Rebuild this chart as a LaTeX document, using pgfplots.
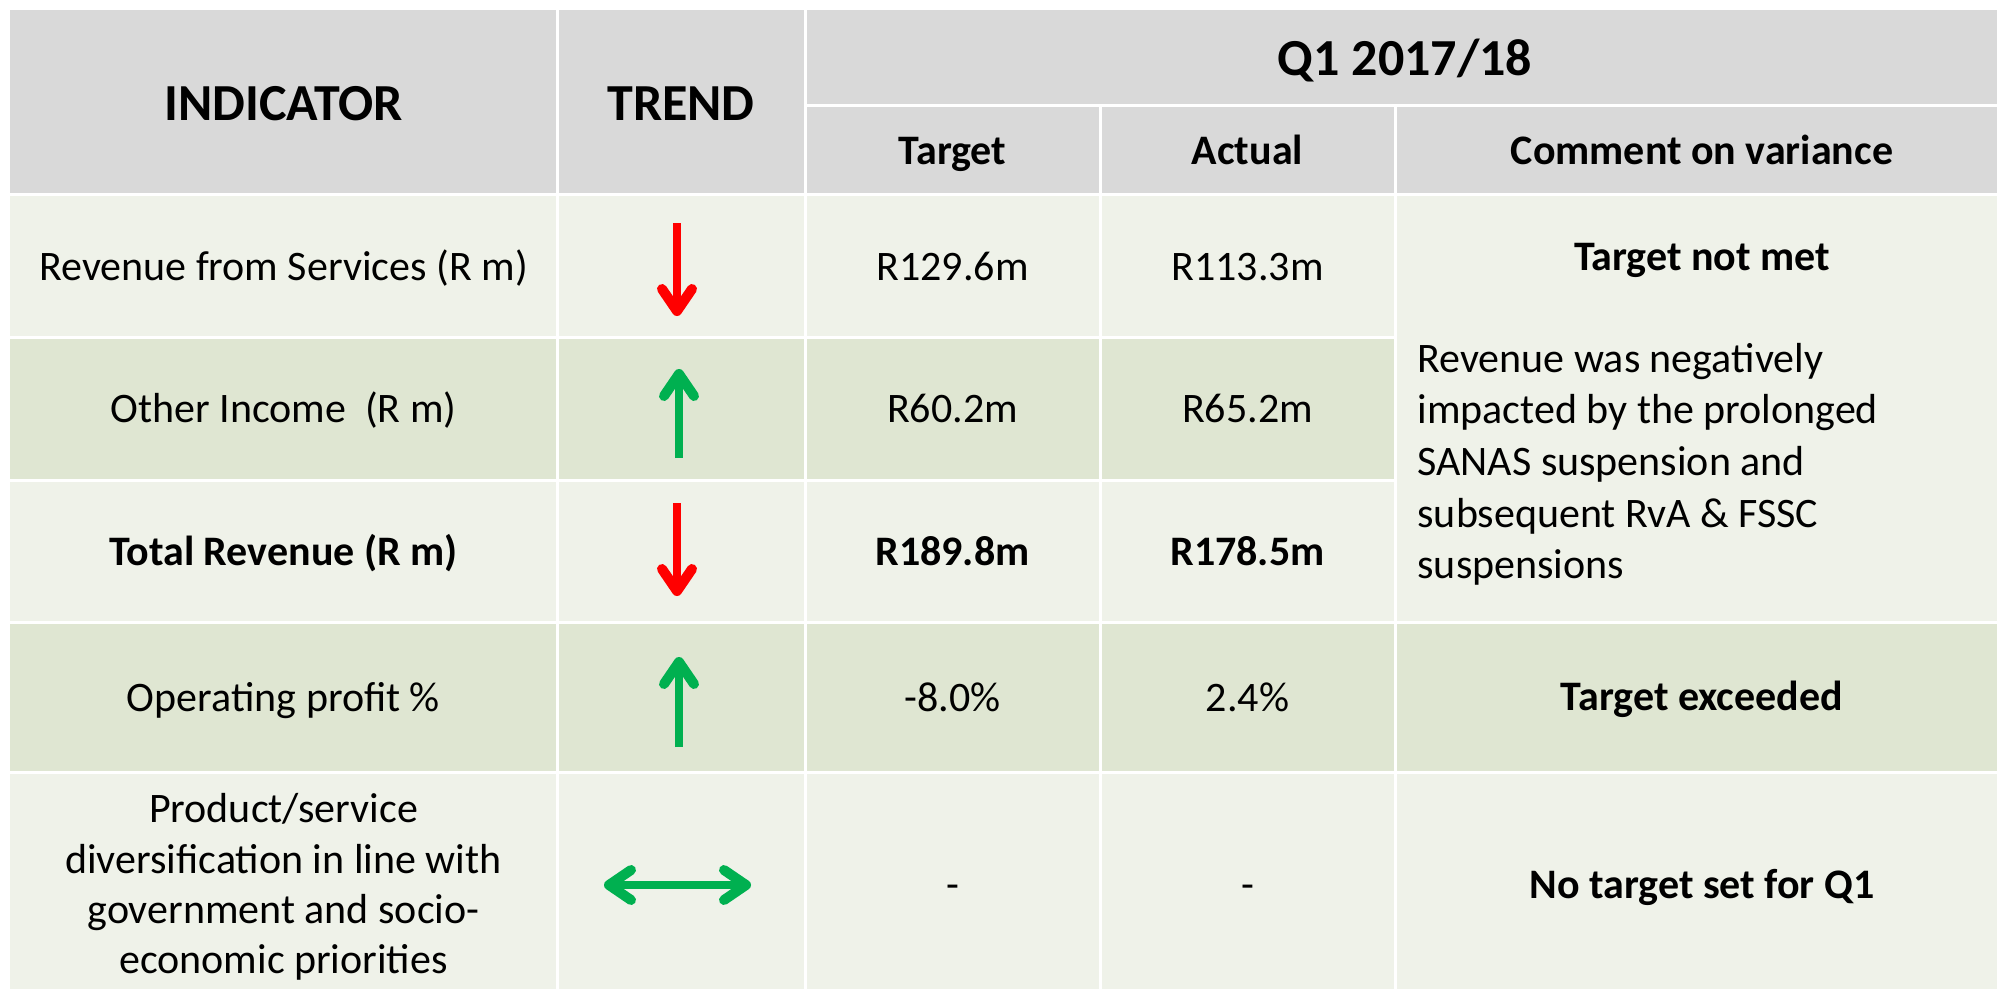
\documentclass[border=0pt]{standalone}
\usepackage{pgfplots}
\pgfplotsset{compat=1.18}
\usetikzlibrary{arrows.meta}
\usepackage{fontspec}
\setmainfont{Carlito}
\definecolor{hdr}{HTML}{D9D9D9}
\definecolor{lightrow}{HTML}{EFF2E9}
\definecolor{darkrow}{HTML}{DFE6D2}
\definecolor{arrred}{HTML}{FF0000}
\definecolor{arrgreen}{HTML}{00B050}
\newcommand\fh{\fontsize{52}{60}\selectfont\bfseries}
\newcommand\fs{\fontsize{42}{50}\selectfont\bfseries}
\newcommand\fb{\fontsize{42}{50}\selectfont}
\newcommand\cell[5]{\addplot[fill=#5,draw=none] coordinates {(#1,#2) (#3,#2) (#3,#4) (#1,#4)} -- cycle;}
\newcommand\wline[4]{\addplot[white,line width=3pt] coordinates {(#1,#2) (#3,#4)};}
\tikzset{tip/.tip={Straight Barb[length=22pt,width=30pt,line width=10pt,round]}}
\begin{document}
\begin{tikzpicture}
\begin{axis}[
  scale only axis, width=1997pt, height=989pt,
  xmin=0, xmax=1997, ymin=0, ymax=989, y dir=reverse,
  hide axis, clip=true,
  every node/.style={inner sep=0pt},
]
% background
\cell{0}{0}{1997}{989}{white}
% header
\cell{10}{10}{1997}{194}{hdr}
% body
\cell{10}{194}{1997}{989}{lightrow}
\cell{10}{337}{1395}{480}{darkrow}
\cell{10}{622}{1997}{772}{darkrow}
% white grid lines
\wline{557}{10}{557}{989}
\wline{805}{10}{805}{989}
\wline{1100}{105}{1100}{989}
\wline{1395}{105}{1395}{989}
\wline{805}{105}{1997}{105}
\wline{10}{194}{1997}{194}
\wline{10}{337}{1395}{337}
\wline{10}{480}{1395}{480}
\wline{10}{622}{1997}{622}
\wline{10}{772}{1997}{772}
% trend arrows
\addplot[arrred, line width=8pt, -tip] coordinates {(677,223) (677,316)};
\addplot[arrgreen, line width=8pt, -tip] coordinates {(679,458) (679,369)};
\addplot[arrred, line width=8pt, -tip] coordinates {(677,503) (677,596)};
\addplot[arrgreen, line width=8pt, -tip] coordinates {(679,747) (679,657)};
\addplot[arrgreen, line width=8pt, tip-tip] coordinates {(604,885) (751,885)};
% header text
\node[anchor=base] at (axis cs:283.5,120) {\fh INDICATOR};
\node[anchor=base] at (axis cs:681,120) {\fh TREND};
\node[anchor=base] at (axis cs:1405,75) {\fh Q1 2017/18};
\node[anchor=base] at (axis cs:952.5,164) {\fs Target};
\node[anchor=base] at (axis cs:1247.5,164) {\fs Actual};
\node[anchor=base] at (axis cs:1702,164) {\fs Comment on variance};
% row 1
\node[anchor=base] at (axis cs:283.5,280) {\fb Revenue from Services (R m)};
\node[anchor=base] at (axis cs:952.5,280) {\fb R129.6m};
\node[anchor=base] at (axis cs:1247.5,280) {\fb R113.3m};
\node[anchor=base] at (axis cs:1702,270) {\fs Target not met};
% row 2
\node[anchor=base] at (axis cs:283.5,422.5) {\fb Other Income\ \ (R m)};
\node[anchor=base] at (axis cs:952.5,422.5) {\fb R60.2m};
\node[anchor=base] at (axis cs:1247.5,422.5) {\fb R65.2m};
% row 3
\node[anchor=base] at (axis cs:283.5,565) {\fs Total Revenue (R m)};
\node[anchor=base] at (axis cs:952.5,565) {\fs R189.8m};
\node[anchor=base] at (axis cs:1247.5,565) {\fs R178.5m};
% comment paragraph
\node[anchor=base west] at (axis cs:1414,372) {\fb Revenue was negatively};
\node[anchor=base west] at (axis cs:1414,423.5) {\fb impacted by the prolonged};
\node[anchor=base west] at (axis cs:1414,475) {\fb SANAS suspension and};
\node[anchor=base west] at (axis cs:1414,527) {\fb subsequent RvA \& FSSC};
\node[anchor=base west] at (axis cs:1414,578) {\fb suspensions};
% row 4
\node[anchor=base] at (axis cs:283.5,711) {\fb Operating profit \%};
\node[anchor=base] at (axis cs:952.5,711) {\fb -8.0\%};
\node[anchor=base] at (axis cs:1247.5,711) {\fb 2.4\%};
\node[anchor=base] at (axis cs:1702,710) {\fs Target exceeded};
% row 5
\node[anchor=base] at (axis cs:283.5,822) {\fb Product/service};
\node[anchor=base] at (axis cs:283.5,873) {\fb diversification in line with};
\node[anchor=base] at (axis cs:283.5,923) {\fb government and socio-};
\node[anchor=base] at (axis cs:283.5,973) {\fb economic priorities};
\node[anchor=base] at (axis cs:952.5,898) {\fb -};
\node[anchor=base] at (axis cs:1247.5,898) {\fb -};
\node[anchor=base] at (axis cs:1702,898) {\fs No target set for Q1};
\end{axis}
\end{tikzpicture}
\end{document}
